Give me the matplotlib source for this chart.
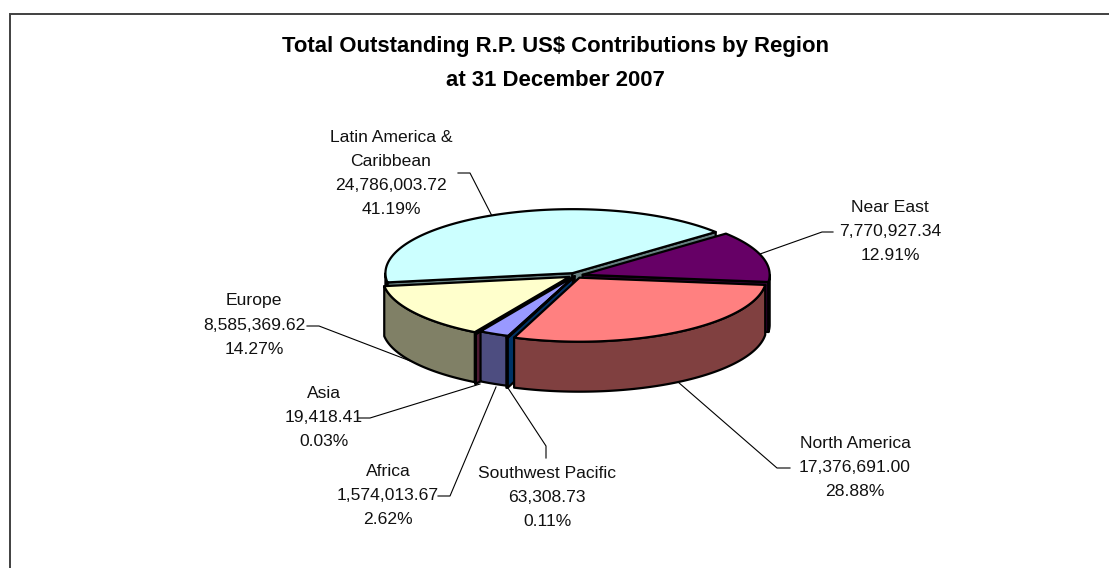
import numpy as np
import matplotlib
matplotlib.use("Agg")
import matplotlib.pyplot as plt
from matplotlib.patches import Polygon

plt.rcParams["font.family"] = ["Liberation Sans", "DejaVu Sans"]

# clockwise slice order, starting at the Near East slice
regions = ["Near East", "North America", "Southwest Pacific", "Africa",
           "Asia", "Europe", "Latin America &\nCaribbean"]
amounts = [7770927.34, 17376691.00, 63308.73, 1574013.67,
           19418.41, 8585369.62, 24786003.72]
top_colors = ["#660066", "#FF8080", "#0066CC", "#9999FF",
              "#993366", "#FFFFCC", "#CCFFFF"]
title_lines = ["Total Outstanding R.P. US$ Contributions by Region",
               "at 31 December 2007"]

# pie geometry in pixels
CX, CY = 575.5, 275.5
RX, RY = 187.0, 64.0
DEPTH = 50.0
START_ANGLE = 40.0
EDGE = 1.6
# how far each slice is pulled out, as a fraction of the radius
EXPLODE = [0.04, 0.04, 0.04, 0.01, 0.06, 0.04, 0.04]
# back-to-front painting order, as indexes into regions
PAINT_ORDER = [6, 0, 5, 4, 3, 2, 1]

# label centre, line spacing and leader polyline for each region
LABEL_POS = [(890, 207), (855, 443), (547, 473), (388, 471),
             (324, 393), (254, 301), (391, 137)]
LEADERS = [
    [(833, 232), (822, 232), (760, 254)],
    [(790, 468), (777, 468), (678, 382)],
    [(546, 458), (546, 446), (508, 388)],
    [(438, 496), (450, 496), (496, 387)],
    [(358, 418), (370, 418), (480, 384)],
    [(307, 326), (319, 326), (413, 362)],
    [(458, 173), (470, 173), (492, 216)],
]
LINE_STEP = 24.3


def ell(cx, cy, deg):
    a = np.radians(deg)
    return np.column_stack([cx + RX * np.cos(a), cy - RY * np.sin(a)])


def add_poly(ax, pts, color, z):
    ax.add_patch(Polygon(pts, closed=True, facecolor=color, edgecolor="black",
                         lw=EDGE, joinstyle="round", zorder=z))


def shade(hex_color):
    rgb = np.array(matplotlib.colors.to_rgb(hex_color))
    return tuple(rgb * 0.5)


def draw_slice(ax, hi, lo, color, explode, z):
    mid = np.radians((hi + lo) / 2)
    cx = CX + explode * RX * np.cos(mid)
    cy = CY - explode * RY * np.sin(mid)
    apex = np.array([[cx, cy]])
    down = np.array([0, DEPTH])
    dark = shade(color)

    # radial cut faces that turn towards the viewer
    for edge, normal in ((hi, hi + 90), (lo, lo - 90)):
        if np.sin(np.radians(normal)) < 0:
            rim = ell(cx, cy, edge)
            add_poly(ax, np.vstack([apex, rim, rim + down, apex + down]), dark, z)

    # outer wall along the front half of the rim
    arc = np.linspace(hi, lo, 181)
    arc = arc[np.sin(np.radians(arc)) <= 0]
    if len(arc) > 1:
        rim = ell(cx, cy, arc)
        add_poly(ax, np.vstack([rim, (rim + down)[::-1]]), dark, z)

    top_arc = ell(cx, cy, np.linspace(hi, lo, 181))
    add_poly(ax, np.vstack([apex, top_arc]), color, z)


fig = plt.figure(figsize=(11.09, 5.68), dpi=100)
ax = fig.add_axes([0, 0, 1, 1])
ax.set_xlim(0, 1109)
ax.set_ylim(568, 0)
ax.axis("off")

# chart area border, only top and left fall inside the frame
ax.plot([9.5, 9.5, 1108.5], [568, 14, 14], color="#404040", lw=1.4,
        solid_joinstyle="miter", zorder=1)

total = sum(amounts)
sweeps = [v / total * 360 for v in amounts]
starts = START_ANGLE - np.concatenate([[0], np.cumsum(sweeps)[:-1]])

for z, i in enumerate(PAINT_ORDER):
    draw_slice(ax, starts[i], starts[i] - sweeps[i], top_colors[i], EXPLODE[i], 5 + z)

for line, y in zip(title_lines, (46.5, 80.5)):
    ax.text(555.5, y, line, ha="center", va="center", fontsize=15.95,
            fontweight="bold", color="black")

for i, name in enumerate(regions):
    lines = name.split("\n") + [f"{amounts[i]:,.2f}",
                                f"{amounts[i] / total * 100:.2f}%"]
    x, y = LABEL_POS[i]
    for k, line in enumerate(lines):
        ax.text(x, y + k * LINE_STEP, line, ha="center", va="center",
                fontsize=12.6, color="#111111")
    xs, ys = zip(*LEADERS[i])
    ax.plot(xs, ys, color="black", lw=0.8, zorder=2)

fig.savefig("out.png", dpi=100)
